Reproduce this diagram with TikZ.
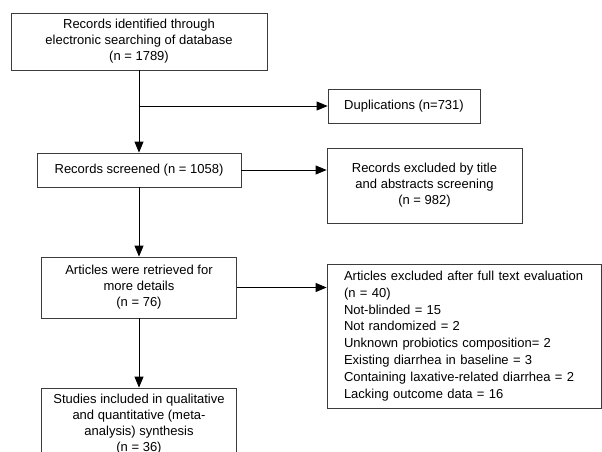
\documentclass[tikz,border=0pt]{standalone}
\usepackage{fontspec}
\setmainfont{Liberation Sans}
\usetikzlibrary{arrows.meta}
\definecolor{boxline}{RGB}{60,60,60}

\begin{document}
\begin{tikzpicture}[x=1pt, y=-1pt,
  box/.style={draw=boxline, line width=0.8pt, align=center, inner sep=0pt,
              font=\fontsize{13}{16}\selectfont},
  arr/.style={-{Triangle[length=11pt,width=9pt]}, line width=0.8pt}]
\useasboundingbox (0,0) rectangle (602,451);
\clip (0,0) rectangle (602,451);

\node[box, minimum width=256pt, minimum height=57pt] (ident) at (139,41.5) {Records identified through\\electronic searching of database\\(n = 1789)};
\node[box, minimum width=152pt, minimum height=34pt] (dup) at (404,106) {Duplications (n=731)};
\node[box, minimum width=204pt, minimum height=34pt] (screen) at (139,170) {Records screened (n = 1058)};
\node[box, minimum width=195pt, minimum height=75pt] (excl1) at (424.5,185.5) {Records excluded by title\\and abstracts screening\\(n = 982)};
\node[box, minimum width=195pt, minimum height=61pt] (retr) at (139,287.5) {Articles were retrieved for\\more details\\(n = 76)};
\node[box, align=left, text width=240pt, inner xsep=17pt, minimum height=144pt,
      font=\fontsize{13}{16.8}\selectfont] (excl2) at (464,336) {Articles excluded after full text evaluation\\(n = 40)\\Not-blinded = 15\\Not randomized = 2\\Unknown probiotics composition= 2\\Existing diarrhea in baseline = 3\\Containing laxative-related diarrhea = 2\\Lacking outcome data = 16};
\node[box, minimum width=195pt, minimum height=72pt] (incl) at (139,424) {Studies included in qualitative\\and quantitative (meta-\\analysis) synthesis\\(n = 36)};

% connectors
\coordinate (split) at (ident.south |- dup.west);
\draw[arr] (ident) -- (screen);
\draw[arr] (split) -- (dup.west);
\draw[arr] (screen.east) -- (screen.east -| excl1.west);
\draw[arr] (screen) -- (retr);
\draw[arr] (retr.east) -- (retr.east -| excl2.west);
\draw[arr] (retr) -- (incl);
\end{tikzpicture}
\end{document}
